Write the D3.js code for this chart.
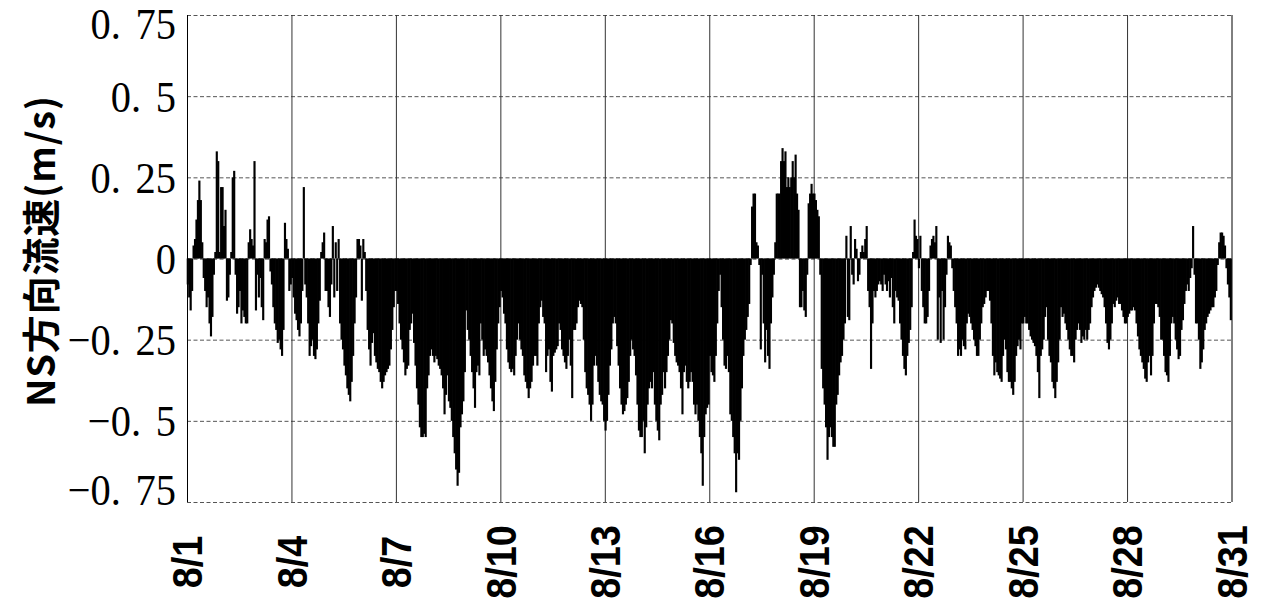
<!DOCTYPE html>
<html><head><meta charset="utf-8">
<script src="https://cdn.jsdelivr.net/npm/d3@7"></script>
<style>body{margin:0;background:#fff;} svg{display:block}</style>
</head><body><svg id="c" width="1272" height="610"></svg>
<script>
// ---------------- DATA ----------------
const xTickHours = [0, 72, 144, 216, 288, 360, 432, 504, 576, 648, 720];
const xTickLabels = ["8/1","8/4","8/7","8/10","8/13","8/16","8/19","8/22","8/25","8/28","8/31"];
const yTickValues = [0.75, 0.5, 0.25, 0, -0.25, -0.5, -0.75];
const yTickLabels = ["0.75","0.5","0.25","0","\u22120.25","\u22120.5","\u22120.75"];
const yTitle = "NS方向流速(m/s)";
// hourly NS velocity (m/s), 8/1 00:00 .. 8/30 23:00
const nsVelocity = [
 -0.08,-0.12,-0.16,-0.1,0.04,0.06,0.12,0.18,0.24,0.18,0.05,-0.06,-0.1,-0.15,-0.12,-0.2,-0.24,-0.18,-0.05,0.02,0.33,0.3,0.02,0.22,
 0.22,0.1,0.15,-0.13,-0.12,-0.05,0.02,0.25,0.27,-0.05,-0.17,-0.15,-0.1,-0.2,-0.16,-0.18,-0.2,-0.2,0.05,0.09,0.06,0.04,0.3,-0.16,
 -0.05,-0.12,-0.06,-0.15,-0.19,0.06,0.05,0.12,0.13,-0.04,-0.08,-0.15,-0.2,-0.22,-0.26,-0.25,-0.28,-0.3,-0.22,0.11,0.06,0.03,-0.1,-0.08,
 -0.06,-0.12,-0.17,-0.19,-0.22,-0.24,-0.2,-0.1,0.22,-0.08,-0.12,-0.2,-0.3,-0.27,-0.25,-0.3,-0.31,-0.28,-0.2,-0.13,0.02,0.05,0.08,-0.1,
 -0.1,-0.15,-0.18,-0.08,0.1,-0.12,0.05,-0.1,0.06,-0.2,-0.25,-0.28,-0.33,-0.36,-0.4,-0.42,-0.44,-0.38,-0.3,-0.2,-0.12,0.06,0.06,0.04,
 -0.13,0.06,0.02,-0.1,-0.22,-0.28,-0.33,-0.26,-0.23,-0.3,-0.32,-0.34,-0.35,-0.38,-0.4,-0.38,-0.36,-0.35,-0.34,-0.33,-0.28,-0.22,-0.15,-0.1,
 -0.1,-0.14,-0.2,-0.25,-0.28,-0.32,-0.36,-0.34,-0.33,-0.22,-0.2,-0.17,-0.26,-0.33,-0.4,-0.45,-0.52,-0.55,-0.55,-0.54,-0.55,-0.4,-0.36,-0.3,
 -0.28,-0.3,-0.32,-0.3,-0.31,-0.33,-0.34,-0.36,-0.4,-0.48,-0.42,-0.36,-0.44,-0.46,-0.5,-0.55,-0.6,-0.65,-0.7,-0.66,-0.52,-0.48,-0.44,-0.35,
 -0.16,-0.22,-0.25,-0.3,-0.35,-0.4,-0.46,-0.35,-0.33,-0.36,-0.2,-0.25,-0.3,-0.28,-0.3,-0.32,-0.36,-0.4,-0.44,-0.47,-0.38,-0.28,-0.2,-0.15,
 -0.1,-0.12,-0.17,-0.2,-0.28,-0.32,-0.34,-0.35,-0.34,-0.36,-0.3,-0.25,-0.2,-0.25,-0.28,-0.3,-0.36,-0.38,-0.4,-0.43,-0.4,-0.38,-0.33,-0.3,
 -0.3,-0.33,-0.2,-0.15,-0.13,-0.18,-0.2,-0.35,-0.3,-0.28,-0.38,-0.41,-0.3,-0.29,-0.28,-0.27,-0.2,-0.22,-0.28,-0.3,-0.32,-0.34,-0.3,-0.25,
 -0.33,-0.43,-0.22,-0.22,-0.2,-0.15,-0.13,-0.14,-0.15,-0.25,-0.35,-0.4,-0.42,-0.45,-0.5,-0.45,-0.33,-0.3,-0.33,-0.38,-0.42,-0.44,-0.45,-0.5,
 -0.53,-0.5,-0.42,-0.33,-0.28,-0.2,-0.18,-0.2,-0.27,-0.33,-0.4,-0.45,-0.48,-0.47,-0.45,-0.43,-0.38,-0.3,-0.25,-0.28,-0.3,-0.36,-0.45,-0.53,
 -0.55,-0.55,-0.5,-0.6,-0.52,-0.45,-0.4,-0.38,-0.4,-0.35,-0.45,-0.5,-0.53,-0.56,-0.45,-0.42,-0.35,-0.4,-0.35,-0.3,-0.25,-0.19,-0.2,-0.26,
 -0.3,-0.32,-0.33,-0.35,-0.4,-0.48,-0.35,-0.33,-0.38,-0.4,-0.38,-0.35,-0.38,-0.45,-0.48,-0.45,-0.5,-0.55,-0.6,-0.7,-0.55,-0.48,-0.46,-0.45,
 -0.3,-0.35,-0.36,-0.38,-0.3,-0.2,-0.1,-0.05,-0.15,-0.25,-0.33,-0.34,-0.3,-0.35,-0.48,-0.5,-0.55,-0.6,-0.72,-0.6,-0.62,-0.5,-0.4,-0.3,
 -0.25,-0.22,-0.18,-0.14,-0.02,0.16,0.2,0.2,0.05,0.04,-0.02,-0.28,-0.05,-0.2,-0.32,-0.22,-0.3,-0.34,-0.2,-0.12,-0.05,0.05,0.2,0.2,
 0.2,0.3,0.34,0.3,0.33,0.22,0.25,0.22,0.25,0.3,0.25,0.32,0.2,0.15,-0.15,-0.15,-0.1,-0.16,-0.18,-0.05,0.17,0.2,0.23,0.2,
 0.2,0.18,0.15,0.13,-0.05,-0.34,-0.4,-0.45,-0.52,-0.62,-0.55,-0.52,-0.55,-0.58,-0.58,-0.45,-0.42,-0.36,-0.32,-0.3,-0.25,-0.2,0.07,-0.18,
 -0.19,0.1,-0.05,-0.08,0.06,0.03,-0.07,-0.05,0.02,0.04,0.02,0.06,0.1,-0.1,-0.15,-0.34,-0.2,-0.1,-0.12,-0.1,-0.08,-0.07,-0.08,-0.1,
 -0.05,-0.08,-0.1,-0.07,-0.12,-0.06,-0.15,-0.2,-0.1,-0.12,-0.13,-0.2,-0.25,-0.3,-0.34,-0.36,-0.3,-0.26,-0.22,-0.15,0.02,0.12,0.07,0.06,
 -0.03,0.07,-0.1,-0.15,-0.2,-0.2,-0.18,-0.1,0.04,0.06,0.07,0.05,0.1,-0.25,-0.12,-0.26,-0.1,-0.25,-0.15,-0.05,0.07,0.05,0.04,-0.03,
 -0.1,-0.15,-0.2,-0.3,-0.28,-0.3,-0.25,-0.27,-0.28,-0.2,-0.17,-0.18,-0.2,-0.22,-0.25,-0.27,-0.3,-0.3,-0.25,-0.2,-0.15,-0.14,-0.12,-0.1,
 -0.1,-0.13,-0.2,-0.3,-0.36,-0.32,-0.35,-0.36,-0.37,-0.38,-0.3,-0.25,-0.28,-0.35,-0.38,-0.38,-0.4,-0.42,-0.38,-0.3,-0.27,-0.25,-0.28,-0.2,
 -0.2,-0.18,-0.2,-0.2,-0.22,-0.24,-0.25,-0.26,-0.27,-0.3,-0.35,-0.43,-0.3,-0.28,-0.25,-0.18,-0.15,-0.25,-0.3,-0.32,-0.38,-0.4,-0.43,-0.38,
 -0.32,-0.25,-0.15,-0.18,-0.17,-0.2,-0.22,-0.25,-0.28,-0.3,-0.3,-0.32,-0.25,-0.22,-0.2,-0.22,-0.26,-0.24,-0.25,-0.22,-0.25,-0.22,-0.2,-0.15,
 -0.12,-0.1,-0.09,-0.08,-0.09,-0.1,-0.11,-0.12,-0.15,-0.2,-0.26,-0.28,-0.25,-0.2,-0.14,-0.15,-0.13,-0.12,-0.14,-0.14,-0.16,-0.18,-0.2,-0.2,
 -0.18,-0.17,-0.16,-0.16,-0.15,-0.16,-0.2,-0.24,-0.28,-0.3,-0.32,-0.34,-0.37,-0.38,-0.32,-0.3,-0.36,-0.3,-0.2,-0.14,-0.14,-0.15,-0.18,-0.25,
 -0.25,-0.3,-0.35,-0.36,-0.38,-0.3,-0.2,-0.18,-0.2,-0.25,-0.28,-0.31,-0.3,-0.22,-0.19,-0.14,-0.1,-0.08,-0.1,-0.06,-0.03,0.1,-0.05,-0.2,
 -0.2,-0.25,-0.34,-0.32,-0.28,-0.22,-0.2,-0.18,-0.17,-0.16,-0.15,-0.15,-0.12,-0.1,-0.02,0.05,0.08,0.08,0.07,0.04,-0.03,-0.08,-0.12,-0.19
];

// ---------------- CHART ----------------
const plot = {left: 187, right: 1231.5, top: 15, bottom: 502};
const svg = d3.select("#c");
const x = d3.scaleLinear().domain([0, 720]).range([plot.left, plot.right]);
const y = d3.scaleLinear().domain([-0.75, 0.75]).range([plot.bottom, plot.top]);

// horizontal dashed gridlines
const hGrid = svg.append("g").attr("transform", `translate(${plot.left},0)`)
  .call(d3.axisLeft(y).tickValues(yTickValues).tickSize(-(plot.right - plot.left)).tickFormat(""));
hGrid.select(".domain").remove();
hGrid.selectAll(".tick line")
  .attr("stroke", d => d === 0 ? "#222" : "#555")
  .attr("stroke-width", 1)
  .attr("stroke-dasharray", "4,2.5");

// vertical solid gridlines
const vGrid = svg.append("g").attr("transform", `translate(0,${plot.bottom})`)
  .call(d3.axisBottom(x).tickValues(xTickHours).tickSize(-(plot.bottom - plot.top)).tickFormat(""));
vGrid.select(".domain").remove();
vGrid.selectAll(".tick line").attr("stroke", (d, i) => (i === 0 || i === xTickHours.length - 1) ? "#000" : "#333").attr("stroke-width", 1);

// bars
const bw = x(1) - x(0);
svg.append("g").selectAll("rect").data(nsVelocity).join("rect")
  .attr("x", (d, i) => x(i) - 0.3)
  .attr("width", bw + 0.7)
  .attr("y", d => y(Math.max(0, d)))
  .attr("height", d => Math.abs(y(d) - y(0)))
  .attr("fill", "#000");

// Y tick labels
const yAxis = svg.append("g").attr("transform", `translate(176,0)`)
  .call(d3.axisLeft(y).tickValues(yTickValues).tickSize(0).tickPadding(0)
    .tickFormat((d, i) => yTickLabels[i]));
yAxis.select(".domain").remove();
yAxis.selectAll(".tick").each(function(d, i) {
  const cy = Math.max(23, Math.min(489, y(d)));
  d3.select(this).attr("transform", `translate(0,${cy})`);
  const t = d3.select(this).select("text");
  const lab = yTickLabels[i];
  t.text(null).attr("x", 0).attr("dy", null)
    .attr("transform", "scale(0.92,1)")
    .attr("dominant-baseline", "central")
    .attr("text-anchor", "end")
    .attr("font-family", "'Liberation Serif','DejaVu Serif',serif")
    .attr("font-size", 44).attr("fill", "#000");
  const p = lab.indexOf(".");
  if (p < 0) { t.append("tspan").text(lab); }
  else {
    t.append("tspan").text(lab.slice(0, p + 1));
    t.append("tspan").attr("dx", 16).text(lab.slice(p + 1));
  }
});

// X tick labels (rotated)
const xAxis = svg.append("g").attr("transform", `translate(0,${plot.bottom})`)
  .call(d3.axisBottom(x).tickValues(xTickHours).tickSize(0).tickFormat((d, i) => xTickLabels[i]));
xAxis.select(".domain").remove();
xAxis.selectAll(".tick text")
  .attr("y", 0).attr("dy", null)
  .attr("transform", "translate(0,60) rotate(-90) scale(0.9,1)")
  .attr("text-anchor", "middle")
  .attr("dominant-baseline", "central")
  .attr("font-family", "'Liberation Sans',Arial,sans-serif")
  .attr("font-weight", "bold")
  .attr("font-size", 42)
  .attr("fill", "#000");

// Y title
svg.append("text")
  .attr("transform", "translate(38,251) rotate(-90)")
  .attr("text-anchor", "middle")
  .attr("dominant-baseline", "central")
  .attr("font-family", "'Noto Sans CJK JP','Noto Sans',sans-serif")
  .attr("font-weight", "bold")
  .attr("font-size", 38)
  .attr("letter-spacing", 0.8)
  .attr("fill", "#000")
  .text(yTitle);
</script></body></html>
